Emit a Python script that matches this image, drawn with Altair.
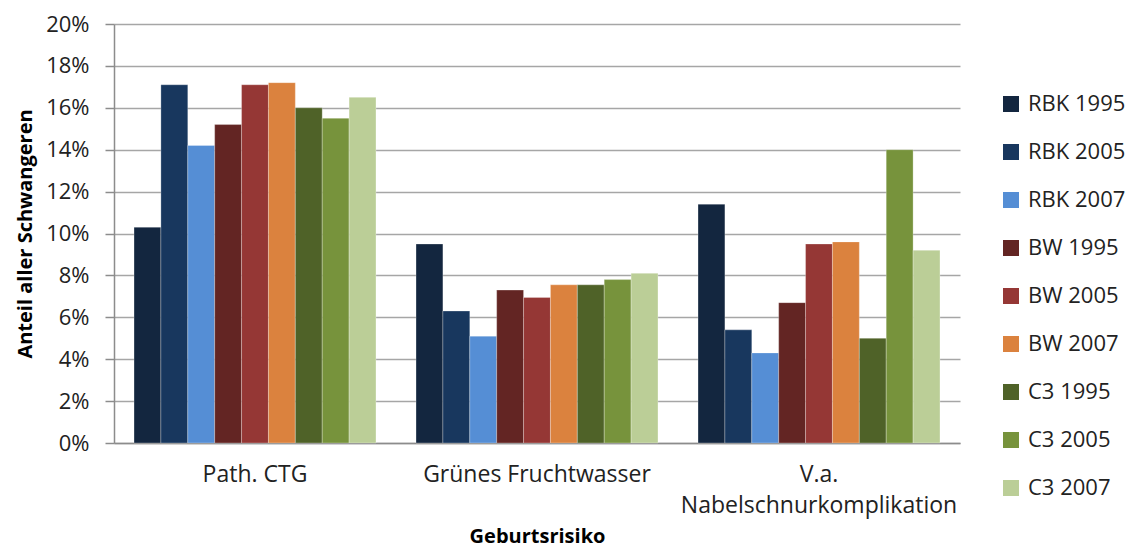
import altair as alt
import pandas as pd

categories = ["Path. CTG", "Grünes Fruchtwasser", "V.a. Nabelschnurkomplikation"]
series = ["RBK 1995", "RBK 2005", "RBK 2007", "BW 1995", "BW 2005", "BW 2007",
          "C3 1995", "C3 2005", "C3 2007"]
colors = ["#13263f", "#18375e", "#558ed5", "#632523", "#953735", "#db823e",
          "#4f6228", "#77933c", "#bbce97"]
values_ctg = [10.3, 17.1, 14.2, 15.2, 17.1, 17.2, 16.0, 15.5, 16.5]
values_gruen = [9.5, 6.3, 5.1, 7.3, 6.95, 7.55, 7.55, 7.8, 8.1]
values_nabel = [11.4, 5.4, 4.3, 6.7, 9.5, 9.6, 5.0, 14.0, 9.2]

rows = []
for cat, vals in zip(categories, [values_ctg, values_gruen, values_nabel]):
    for s, v in zip(series, vals):
        rows.append({"Kategorie": cat, "Serie": s, "Wert": v / 100})
df = pd.DataFrame(rows)

FONT = "Open Sans"

chart = alt.Chart(df).mark_bar(stroke="#ffffff", strokeOpacity=0.35, strokeWidth=0.8).encode(
    x=alt.X("Kategorie:N", sort=categories,
            scale=alt.Scale(paddingInner=0.142, paddingOuter=0.071),
            axis=alt.Axis(title="Geburtsrisiko", labelAngle=0, ticks=False,
                          labelFontSize=23, titleFontSize=20,
                          labelPadding=20, labelLineHeight=31, labelLimit=400,
                          labelExpr="datum.label == 'V.a. Nabelschnurkomplikation' ? ['V.a.', 'Nabelschnurkomplikation'] : datum.label",
                          titlePadding=9, domainColor="#8c8c8c", domainWidth=1.5)),
    xOffset=alt.XOffset("Serie:N", sort=series, scale=alt.Scale(paddingInner=0, paddingOuter=0)),
    y=alt.Y("Wert:Q", scale=alt.Scale(domain=[0, 0.2]),
            axis=alt.Axis(title="Anteil aller Schwangeren", format=".0%", values=[i / 100 for i in range(0, 21, 2)],
                          labelFontSize=22, titleFontSize=20,
                          tickSize=9, tickColor="#8c8c8c", tickWidth=1.5,
                          gridColor="#a6a6a6", gridWidth=1.5,
                          domainColor="#8c8c8c", domainWidth=1.5,
                          labelPadding=16, titlePadding=10)),
    color=alt.Color("Serie:N", sort=series,
                    scale=alt.Scale(domain=series, range=colors),
                    legend=alt.Legend(title=None, orient="none", legendX=886, legendY=69,
                                      symbolType="square", symbolSize=256, symbolStrokeWidth=0,
                                      labelFontSize=22, labelOffset=6, rowPadding=26,
                                      labelFont=FONT, labelColor="#222222")),
).properties(
    width=846, height=419,
    autosize=alt.AutoSizeParams(type="none"),
    padding={"left": 106, "top": 16, "right": 168, "bottom": 107},
    background="white",
).configure_view(
    stroke=None
).configure_axis(
    labelFont=FONT, titleFont=FONT,
    labelColor="#222222", titleColor="#000000", titleFontWeight="bold"
)

chart.save("out.html", embed_options={"renderer": "svg", "actions": False})
